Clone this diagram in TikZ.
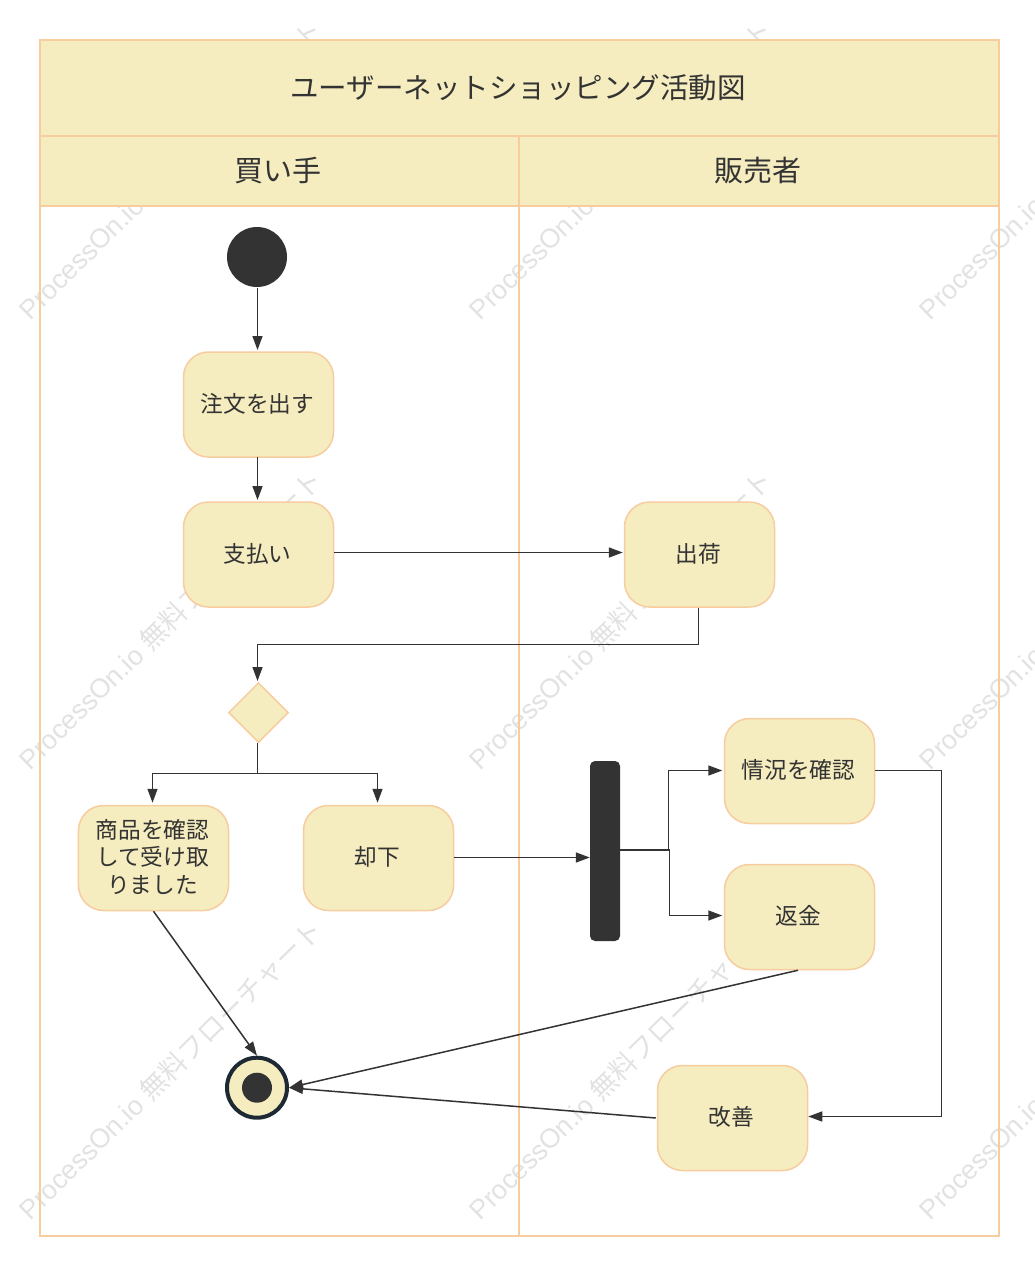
\documentclass[tikz,border=0pt]{standalone}
\usepackage{fontspec}
\setmainfont{Noto Sans CJK JP}
\newfontfamily\wmlatin{Liberation Sans}
\usetikzlibrary{shapes.geometric,arrows.meta,positioning,calc}
\definecolor{lanefill}{HTML}{F5ECBF}
\definecolor{lanestroke}{HTML}{F7CDA0}
\definecolor{ink}{HTML}{333333}
\definecolor{ringink}{HTML}{1E2A33}
\definecolor{wmark}{HTML}{E2E2E2}
\tikzset{
  band/.style={draw=lanestroke,fill=lanefill,line width=1.6bp},
  laneline/.style={draw=lanestroke,line width=1.6bp},
  titletext/.style={text=ink,font=\fontsize{28.5bp}{32bp}\selectfont,inner sep=0pt},
  headtext/.style={text=ink,font=\fontsize{29bp}{32bp}\selectfont,inner sep=0pt},
  acttext/.style={xshift=-1bp,yshift=1bp,inner sep=0pt,align=center,text=ink,
    font=\fontsize{22.7bp}{27.5bp}\selectfont},
  activity/.style={draw=lanestroke,fill=lanefill,line width=1.5bp,rounded corners=25bp,
    minimum width=150bp,minimum height=105bp,inner sep=0pt},
  decisionbox/.style={diamond,aspect=1,draw=lanestroke,fill=lanefill,line width=1.5bp,minimum width=60bp,minimum height=60bp,inner sep=0pt},
  startdot/.style={circle,fill=ink,minimum size=60bp,inner sep=0pt},
  endring/.style={circle,draw=ringink,fill=lanefill,line width=4bp,minimum size=60bp,inner sep=0pt},
  enddot/.style={circle,fill=ink,minimum size=30bp,inner sep=0pt},
  forkbar/.style={fill=ink,rounded corners=5bp,minimum width=30bp,minimum height=180bp,inner sep=0pt},
  conn/.style={draw=ink,line width=1.5bp,-{Triangle[length=14bp,width=10bp]}},
  plainconn/.style={draw=ink,line width=1.5bp},
  wm/.style={text=wmark,font=\fontsize{27bp}{27bp}\selectfont,rotate=44.5,anchor=west,inner sep=0pt},
}
\newcommand{\wmtext}{{\wmlatin ProcessOn.io }無料フローチャート}
\begin{document}
\begin{tikzpicture}[x=1bp,y=-1bp]
\useasboundingbox (0,0) rectangle (1035,1272);
% watermarks
\begin{scope}
\clip (0,0) rectangle (1035,1272);
\foreach \wy in {314,764,1214}{
  \foreach \wx in {23,473,923}{
    \node[wm] at (\wx,\wy) {\wmtext};
  }
}
\end{scope}
% swimlane
\draw[laneline] (40,206) -- (40,1236) -- (999,1236) -- (999,206);
\draw[laneline] (519,206) -- (519,1236);
\draw[band] (40,40) rectangle (999,136);
\draw[band] (40,136) rectangle (519,206);
\draw[band] (519,136) rectangle (999,206);
\node[titletext] (title) at (518,87.5) {ユーザーネットショッピング活動図};
\node[headtext] (buyer) at (277.5,170.5) {買い手};
\node[headtext] (seller) at (757.5,170.5) {販売者};
% nodes
\node[startdot] (start) at (257,257) {};
\node[activity,label={[acttext]center:注文を出す}] (order) at (258.5,404.5) {};
\node[activity,label={[acttext]center:支払い}] (pay) at (258.5,554.5) {};
\node[activity,label={[acttext]center:出荷}] (ship) at (699.5,554.5) {};
\node[decisionbox] (dec) at (258.5,712.5) {};
\node[activity,label={[acttext]center:{商品を確認\\して受け取\\りました}}] (accept) at (153.5,858) {};
\node[activity,label={[acttext]center:却下}] (reject) at (378.5,858) {};
\node[forkbar] (fork) at (605,851) {};
\node[activity,label={[acttext]center:情況を確認}] (check) at (799.5,771) {};
\node[activity,label={[acttext]center:返金}] (refund) at (799.5,917) {};
\node[activity,label={[acttext]center:改善}] (improve) at (732.5,1118) {};
\node[endring] (finish) at (257,1087.7) {};
\node[enddot] (finishdot) at (finish.center) {};
% waypoints
\coordinate (w0) at (257.5,288);
\coordinate (w0b) at (257.5,350);
\coordinate (w0c) at (257.5,457);
\coordinate (w0d) at (257.5,500);
\coordinate (w1a) at (698.5,644.5);
\coordinate (w1b) at (257.5,644.5);
\coordinate (w1c) at (257.5,681);
\coordinate (w2) at (257.5,773.5);
\coordinate (w2a) at (152.5,773.5);
\coordinate (w2b) at (377.5,773.5);
\coordinate (w3) at (668.5,850);
\coordinate (w3a) at (668.5,770.5);
\coordinate (w4) at (669.5,850);
\coordinate (w4a) at (669.5,915.5);
\coordinate (w5a) at (941.5,770.5);
\coordinate (w5b) at (941.5,1116.5);
\coordinate (w6) at (453.5,857.5);
% connectors
\draw[conn] (w0) -- (w0b);
\draw[conn] (w0c) -- (w0d);
\draw[conn] ([yshift=2bp]pay.east) -- ([xshift=-1bp,yshift=2bp]ship.west);
\draw[conn] (ship.south -| w1a) -- (w1a) -- (w1b) -- (w1c);
\draw[plainconn] (dec.south -| w2) -- (w2);
\draw[conn] (w2) -- (w2a) -- ([yshift=2bp,xshift=-1bp]accept.north);
\draw[conn] (w2) -- (w2b) -- ([yshift=2bp,xshift=-1bp]reject.north);
\draw[conn] (w6) -- (fork.west |- w6);
\draw[plainconn] (fork.east |- w3) -- (w4);
\draw[conn] (w3) -- (w3a) -- ([xshift=-1.5bp]check.west |- w3a);
\draw[conn] (w4) -- (w4a) -- ([xshift=-1.5bp]refund.west |- w4a);
\draw[conn] (check.east |- w5a) -- (w5a) -- (w5b) -- (improve.east |- w5b);
\draw[conn] ([xshift=-1.5bp]refund.south) -- (finish.east);
\draw[conn] ([xshift=-1bp]improve.west) -- (finish.east);
\draw[conn] (accept.south) -- (finish.north);
\end{tikzpicture}
\end{document}
